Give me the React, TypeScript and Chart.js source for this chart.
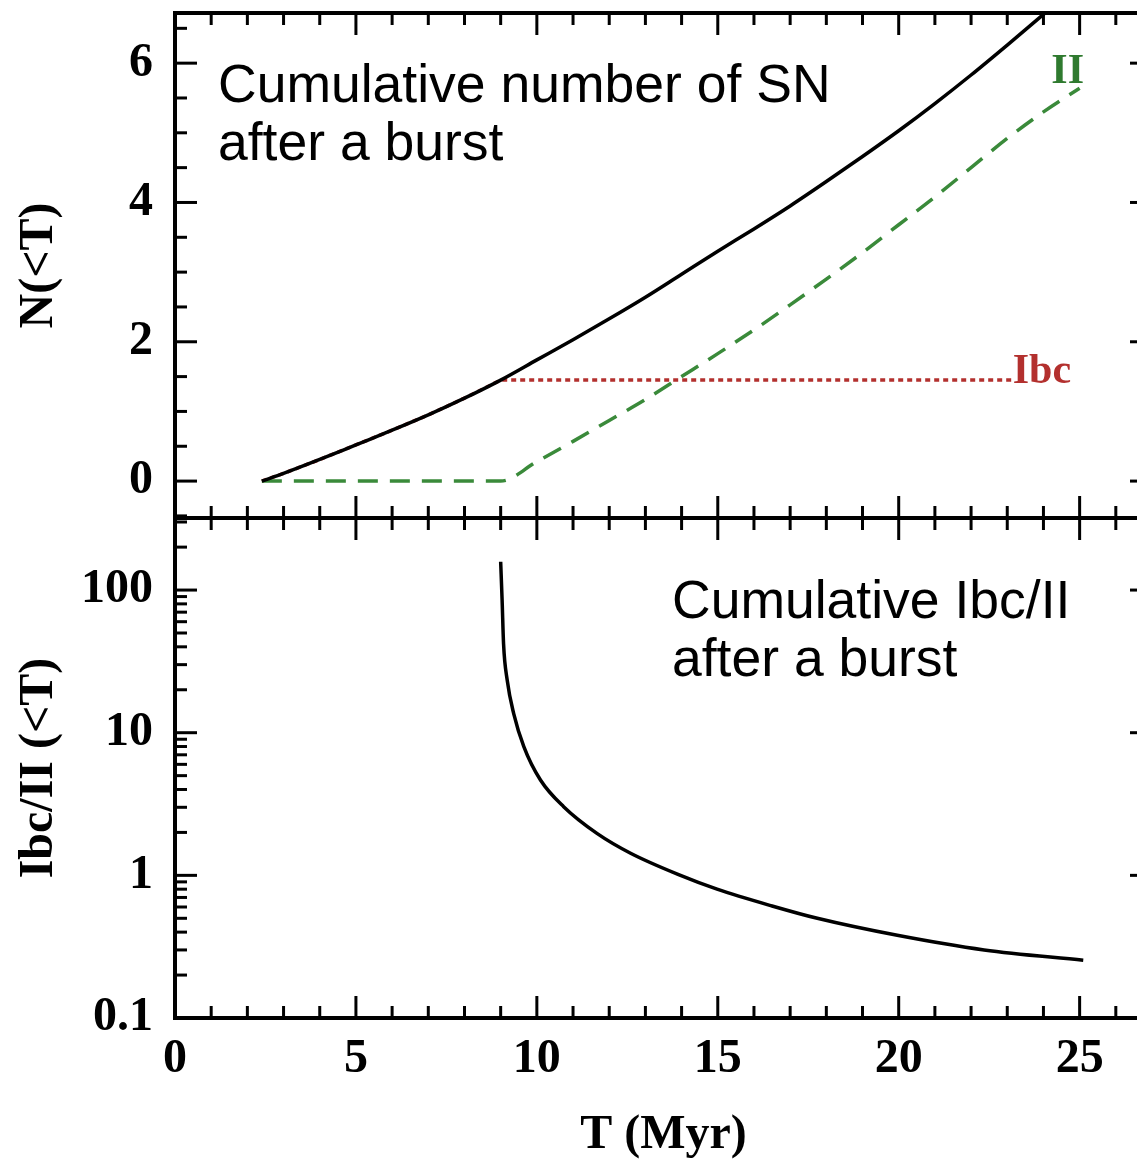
import React, { useEffect, useRef } from "react";
import { Chart, registerables } from "chart.js";

Chart.register(...registerables);

// ---- data ----
const totalT = [2.4, 3, 4, 5, 6, 7, 8, 9, 10, 11, 12, 13, 14, 15, 16, 17, 18, 19, 20, 21, 22, 23, 24, 25];
const totalN = [0, 0.11, 0.31, 0.52, 0.73, 0.95, 1.19, 1.45, 1.74, 2.03, 2.33, 2.64, 2.97, 3.3, 3.62, 3.95, 4.3, 4.66, 5.03, 5.42, 5.83, 6.26, 6.7, 7.14];

const iiT = [2.4, 9, 10, 11, 12, 13, 14, 15, 16, 17, 18, 19, 20, 21, 22, 23, 24, 25];
const iiN = [0, 0, 0.28, 0.57, 0.87, 1.17, 1.5, 1.83, 2.17, 2.53, 2.9, 3.28, 3.68, 4.08, 4.5, 4.92, 5.3, 5.64];

const ibcT = [2.4, 3, 4, 5, 6, 7, 8, 9, 23.15];
const ibcN = [0, 0.11, 0.31, 0.52, 0.73, 0.95, 1.19, 1.45, 1.45];

const ratioT = [9.0, 9.04, 9.08, 9.18, 9.36, 9.64, 10.1, 10.74, 11.66, 12.59, 13.97, 14.98, 16.5, 17.75, 19.96, 22.36, 25.1];
const ratioV = [158, 85, 42, 23.4, 13.6, 8.0, 4.66, 3.03, 1.97, 1.43, 1.0, 0.8, 0.61, 0.5, 0.38, 0.3, 0.254];

const xTickLabels = [0, 5, 10, 15, 20, 25];
const topTickLabels = [0, 2, 4, 6];
const botTickLabels = [0.1, 1, 10, 100];

const noteTop = ["Cumulative number of SN", "after a burst"];
const noteBot = ["Cumulative Ibc/II", "after a burst"];
const xTitle = "T (Myr)";
const yTopTitle = "N(<T)";
const yBotTitle = "Ibc/II (<T)";
const labelII = "II";
const labelIbc = "Ibc";

// ---- styling ----
const X_MIN = 0;
const X_MAX = 27;
const TOP_MIN = -0.53;
const TOP_MAX = 6.72;
const BOT_MIN = 0.1;
const BOT_MAX = 320;
const SERIF = '"Liberation Serif", "DejaVu Serif", serif';
const SANS = '"Liberation Sans", Arial, sans-serif';
const GREEN = "#3a8a3a";
const RED = "#b3302e";

const pts = (xs: number[], ys: number[]) => xs.map((x, i) => ({ x, y: ys[i] }));

const tickFont = { family: SERIF, weight: "bold" as const, size: 48 };

const framePlugin = {
  id: "frame",
  afterDraw(chart: any) {
    const ctx = chart.ctx as CanvasRenderingContext2D;
    const xs = chart.scales.x;
    const yTop = chart.scales.yTop;
    const yBot = chart.scales.yBot;
    const L = xs.left;
    const R = xs.right;
    ctx.save();
    ctx.strokeStyle = "#000";
    ctx.lineCap = "butt";
    const seg = (x1: number, y1: number, x2: number, y2: number) => {
      ctx.beginPath();
      ctx.moveTo(x1, y1);
      ctx.lineTo(x2, y2);
      ctx.stroke();
    };
    ctx.lineWidth = 3;
    for (const y of [yTop, yBot]) {
      const T = y.top;
      const B = y.bottom;
      for (let v = X_MIN; v <= X_MAX; v++) {
        const px = xs.getPixelForValue(v);
        const len = v % 5 === 0 ? 22 : 12;
        seg(px, T, px, T + len);
        seg(px, B, px, B - len);
      }
      const vals: { v: number; major: boolean }[] = [];
      if (y === yTop) {
        for (let v = -0.5; v <= 6.5 + 1e-9; v += 0.5) vals.push({ v, major: Math.abs(v % 2) < 1e-9 });
      } else {
        for (const d of [0.1, 1, 10, 100]) {
          for (let k = 1; k <= 9; k++) {
            const v = k * d;
            if (v <= BOT_MAX) vals.push({ v, major: k === 1 });
          }
        }
      }
      for (const t of vals) {
        const py = y.getPixelForValue(t.v);
        if (py < T + 1 || py > B - 1) continue;
        const len = t.major ? 22 : 12;
        seg(L, py, L + len, py);
        seg(R, py, R - len, py);
      }
    }
    ctx.lineWidth = 4;
    for (const y of [yTop, yBot]) {
      ctx.strokeRect(L, y.top, R - L, y.bottom - y.top);
    }
    ctx.restore();
  },
};

const notesPlugin = {
  id: "notes",
  afterDraw(chart: any) {
    const ctx = chart.ctx as CanvasRenderingContext2D;
    const xs = chart.scales.x;
    const yTop = chart.scales.yTop;
    const yBot = chart.scales.yBot;
    ctx.save();
    ctx.textAlign = "left";
    ctx.textBaseline = "alphabetic";
    ctx.fillStyle = "#000";
    ctx.font = `53.5px ${SANS}`;
    ctx.fillText(noteTop[0], xs.left + 43, yTop.top + 89);
    ctx.fillText(noteTop[1], xs.left + 43, yTop.top + 147);
    ctx.fillText(noteBot[0], xs.left + 497, yBot.top + 100);
    ctx.fillText(noteBot[1], xs.left + 497, yBot.top + 158);

    ctx.font = `bold 42px ${SERIF}`;
    ctx.fillStyle = "#2f7a2f";
    ctx.textAlign = "center";
    ctx.fillText(labelII, xs.getPixelForValue(24.67), yTop.getPixelForValue(5.71));
    ctx.fillStyle = RED;
    ctx.textAlign = "left";
    ctx.fillText(labelIbc, xs.getPixelForValue(23.15), yTop.getPixelForValue(1.45) + 3);
    ctx.restore();
  },
};

export default function App() {
  const ref = useRef<HTMLCanvasElement>(null);
  useEffect(() => {
    if (!ref.current) return;
    const chart = new Chart(ref.current, {
      type: "line",
      data: {
        datasets: [
          {
            label: "Total",
            data: pts(totalT, totalN),
            xAxisID: "x",
            yAxisID: "yTop",
            borderColor: "#000",
            borderWidth: 3.5,
            pointRadius: 0,
            fill: false,
            cubicInterpolationMode: "monotone",
          },
          {
            label: "II",
            data: pts(iiT, iiN),
            xAxisID: "x",
            yAxisID: "yTop",
            borderColor: GREEN,
            borderWidth: 3.5,
            borderDash: [20, 12],
            pointRadius: 0,
            fill: false,
            cubicInterpolationMode: "monotone",
          },
          {
            label: "Ibc",
            data: pts(ibcT, ibcN),
            xAxisID: "x",
            yAxisID: "yTop",
            borderColor: RED,
            borderWidth: 3.5,
            borderDash: [5, 4],
            pointRadius: 0,
            fill: false,
            tension: 0,
          },
          {
            label: "Ibc/II",
            data: pts(ratioT, ratioV),
            xAxisID: "x",
            yAxisID: "yBot",
            borderColor: "#000",
            borderWidth: 3.5,
            pointRadius: 0,
            fill: false,
            cubicInterpolationMode: "monotone",
          },
        ],
      },
      options: {
        responsive: false,
        animation: false,
        layout: { padding: { left: 0, right: 4, top: 13, bottom: 0 } },
        plugins: { legend: { display: false }, tooltip: { enabled: false } },
        scales: {
          x: {
            type: "linear",
            position: "bottom",
            min: X_MIN,
            max: X_MAX,
            afterBuildTicks: (s: any) => {
              s.ticks = xTickLabels.map((v) => ({ value: v }));
            },
            ticks: { font: tickFont, color: "#000", padding: 13, maxRotation: 0, autoSkip: false },
            grid: { display: false, drawTicks: false },
            border: { display: false },
            title: {
              display: true,
              text: xTitle,
              color: "#000",
              font: { family: SERIF, weight: "bold", size: 48, lineHeight: 1.1 },
              padding: { top: 0, bottom: 0 },
            },
            afterFit: (s: any) => {
              s.height = 144;
              s.paddingLeft = 0;
              s.paddingRight = 0;
            },
          },
          yBot: {
            type: "logarithmic",
            position: "left",
            stack: "panels",
            stackWeight: 500,
            min: BOT_MIN,
            max: BOT_MAX,
            afterBuildTicks: (s: any) => {
              s.ticks = botTickLabels.map((v) => ({ value: v }));
            },
            ticks: {
              font: tickFont,
              color: "#000",
              padding: 22,
              callback: (v: any) => String(Number(v)),
            },
            grid: { display: false, drawTicks: false },
            border: { display: false },
            title: {
              display: true,
              text: yBotTitle,
              color: "#000",
              font: { family: SERIF, weight: "bold", size: 48 },
              padding: { top: 11, bottom: 0 },
            },
            afterFit: (s: any) => {
              s.width = 175;
              s.paddingTop = 0;
              s.paddingBottom = 0;
            },
          },
          yTop: {
            type: "linear",
            position: "left",
            stack: "panels",
            stackWeight: 505,
            min: TOP_MIN,
            max: TOP_MAX,
            afterBuildTicks: (s: any) => {
              s.ticks = topTickLabels.map((v) => ({ value: v }));
            },
            ticks: { font: tickFont, color: "#000", padding: 22 },
            grid: { display: false, drawTicks: false },
            border: { display: false },
            title: {
              display: true,
              text: yTopTitle,
              color: "#000",
              font: { family: SERIF, weight: "bold", size: 48 },
              padding: { top: 11, bottom: 0 },
            },
            afterFit: (s: any) => {
              s.width = 175;
              s.paddingTop = 0;
              s.paddingBottom = 0;
            },
          },
        },
      } as any,
      plugins: [framePlugin, notesPlugin],
    });
    return () => chart.destroy();
  }, []);

  return (
    <div
      style={{
        position: "absolute",
        left: 0,
        top: 0,
        width: 1137,
        height: 1162,
        overflow: "hidden",
        background: "#fff",
      }}
    >
      <canvas ref={ref} width={1156} height={1162} style={{ display: "block", width: 1156, height: 1162 }} />
    </div>
  );
}
